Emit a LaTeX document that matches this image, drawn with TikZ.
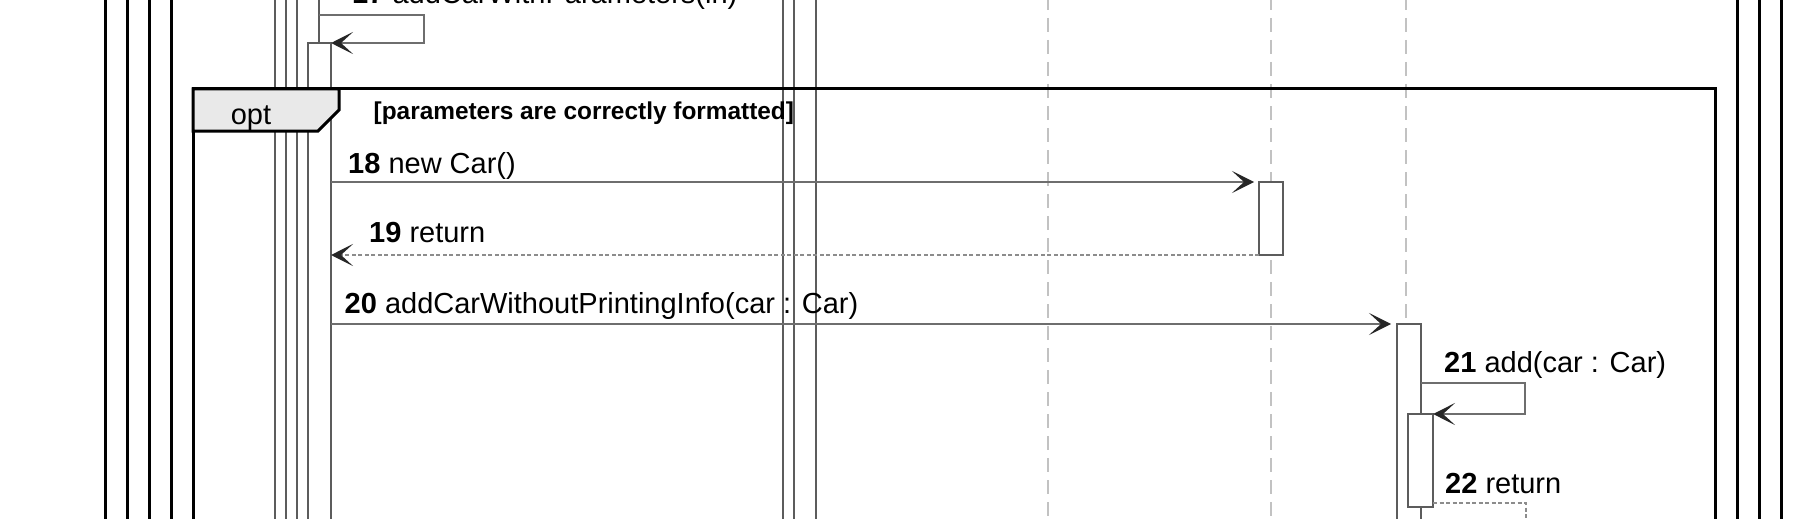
\documentclass[tikz,border=0pt]{standalone}
\usepackage{fontspec}
\setmainfont{Liberation Sans}
\usetikzlibrary{arrows.meta}

\definecolor{barline}{HTML}{5C5C5C}
\definecolor{msgline}{HTML}{6E6E6E}
\definecolor{tipcol}{HTML}{262626}
\definecolor{lifegray}{HTML}{C2C2C2}
\definecolor{retgray}{HTML}{8C8C8C}
\definecolor{tabfill}{HTML}{E9E9E9}

\tikzset{
  frameline/.style={line width=3pt},
  actbar/.style={draw=barline, fill=white, line width=2pt, inner sep=0pt, outer sep=0pt, minimum width=22pt, anchor=north west},
  lifeline/.style={draw=lifegray, line width=2pt, dash pattern=on 14pt off 8pt},
  msg/.style={draw=msgline, line width=2pt, -{Stealth[length=22pt,width=22pt,inset=12pt,color=tipcol]}},
  retmsg/.style={msg, draw=retgray, dash pattern=on 4pt off 2.5pt},
  msglabel/.style={anchor=base west, inner sep=0pt, font=\fontsize{29}{34}\selectfont},
}

\begin{document}
\begin{tikzpicture}[x=1pt,y=-1pt]
    	\clip (0,0) rectangle (1797,519);

    	% enclosing frames
    	\draw[frameline] (105,-10) -- (105,530);
    	\draw[frameline] (127,-10) -- (127,530);
    	\draw[frameline] (149,-10) -- (149,530);
    	\draw[frameline] (171,-10) -- (171,530);
    	\draw[frameline] (1737.5,-10) -- (1737.5,530);
    	\draw[frameline] (1759.5,-10) -- (1759.5,530);
    	\draw[frameline] (1781.5,-10) -- (1781.5,530);

    	% lifelines
    	\draw[lifeline] (1047.5,-4) -- (1047.5,540);
    	\draw[lifeline] (1271,-4) -- (1271,540);
    	\draw[lifeline] (1405.5,-4) -- (1405.5,540);

    	% activation bars
    	\node[actbar, minimum height=580pt] (barA) at (275,-30) {};
    	\node[actbar, minimum height=580pt] (barB) at (286,-30) {};
    	\node[actbar, minimum height=580pt] (barC) at (297,-30) {};
    	\node[actbar, minimum height=510pt, minimum width=23pt] (barD) at (308,43) {};
    	\node[actbar, minimum height=580pt] (barE) at (783,-30) {};
    	\node[actbar, minimum height=580pt] (barF) at (794,-30) {};
    	\node[actbar, minimum height=73pt, minimum width=24pt] (barG) at (1259,182) {};
    	\node[actbar, minimum height=250pt, minimum width=24pt] (barH) at (1397,324) {};
    	\node[actbar, minimum height=93pt, minimum width=25pt] (barI) at (1408,414) {};

    	% opt fragment
    	\draw[frameline] (193,530) -- (193,89) -- (1715,89) -- (1715,530);
    	\draw[frameline, fill=tabfill] (193,89) -- (339,89) -- (339,110) -- (318,131) -- (193,131) -- cycle;
    	\node[anchor=base, inner sep=0pt, font=\fontsize{29}{34}\selectfont] (optlbl) at (251,124) {opt};
    	\node[anchor=base west, inner sep=0pt, font=\fontsize{24.4}{28}\selectfont\bfseries] (guard) at (373.5,119) {[parameters are correctly formatted]};

    	% messages
    	\coordinate (c17) at (424,15);
    	\draw[msg] (barC.east |- c17) -- (c17) |- (barD.north east);
    	\node[msglabel] (l17) at (352,4) {\textbf{17} addCarWithParameters(in)};

    	\draw[msg, shorten >=5pt] (barD.east |- barG.north west) -- (barG.north west);
    	\node[msglabel] (l18) at (348,173) {\textbf{18} new Car()};

    	\draw[retmsg] (barG.south west) -- (barD.east |- barG.south west);
    	\node[msglabel] (l19) at (369,242) {\textbf{19} return};

    	\draw[msg, shorten >=6pt] (barD.east |- barH.north west) -- (barH.north west);
    	\node[msglabel] (l20) at (344.5,313) {\textbf{20} addCarWithoutPrintingInfo(car : Car)};

    	\coordinate (c21) at (1525,383);
    	\draw[msg] (barH.east |- c21) -- (c21) |- (barI.north east);
    	\node[msglabel] (l21) at (1444,372) {\textbf{21} add(car : Car)};

    	\coordinate (c22) at (1526,503);
    	\coordinate (e22) at (1526,560);
    	\draw[retmsg] (barI.east |- c22) -- (c22) -- (e22);
    	\node[msglabel] (l22) at (1445,493) {\textbf{22} return};
\end{tikzpicture}
\end{document}
